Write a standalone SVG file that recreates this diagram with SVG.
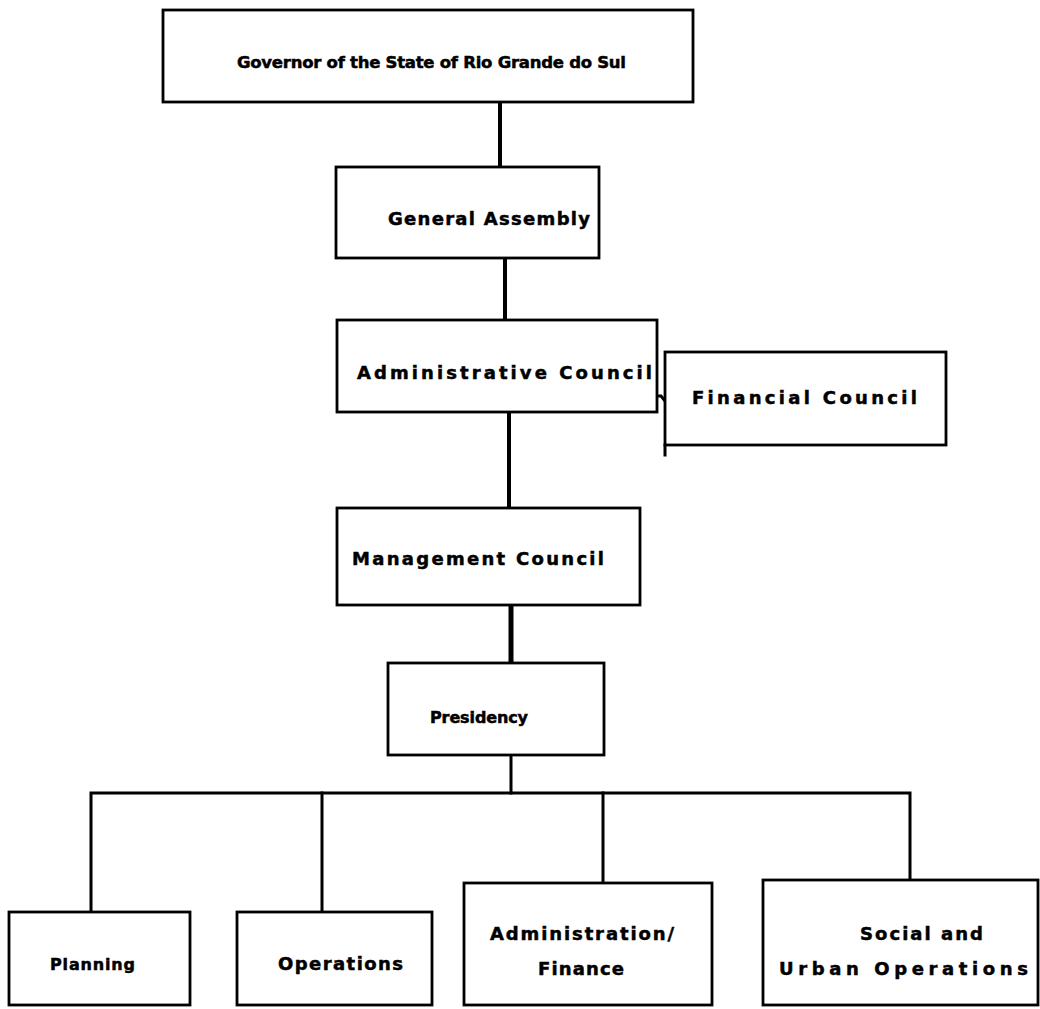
<svg xmlns="http://www.w3.org/2000/svg" width="1040" height="1009" viewBox="0 0 1040 1009">
<style>
.box{fill:#fff;stroke:#000;stroke-width:2.8}
.lbl{font-family:"DejaVu Sans","Liberation Sans",sans-serif;font-weight:bold;font-size:18px;fill:#000;stroke:#000;stroke-width:0.5}
.sm{font-size:16px}
.conn{stroke:#000;stroke-width:4;fill:none;stroke-linecap:square}
.thin{stroke:#000;stroke-width:3;fill:none;stroke-linecap:square}
</style>
<rect width="1040" height="1009" fill="#fff"/>
<g id="connectors">
<line class="conn" x1="500" y1="102" x2="500" y2="166"/>
<line class="conn" x1="505" y1="258" x2="505" y2="319"/>
<polyline class="thin" points="657,396 661,396 665,401"/>
<line class="conn" x1="509" y1="412" x2="509" y2="507"/>
<line class="conn" x1="511" y1="605" x2="511" y2="662" style="stroke-width:5"/>
<line class="thin" x1="511" y1="755" x2="511" y2="793"/>
<polyline class="thin" points="91,912 91,793 910,793 910,880"/>
<line class="thin" x1="322" y1="793" x2="322" y2="912"/>
<line class="thin" x1="603" y1="793" x2="603" y2="883"/>
</g>
<g id="governor">
<rect class="box" x="163" y="10" width="530" height="92"/>
<text class="lbl" x="237" y="68" textLength="389" lengthAdjust="spacing" style="font-size:16.5px">Governor of the State of Rio Grande do Sul</text>
</g>
<g id="general-assembly">
<rect class="box" x="336" y="167" width="263" height="91"/>
<text class="lbl" x="388" y="225" textLength="202" lengthAdjust="spacing">General Assembly</text>
</g>
<g id="administrative-council">
<rect class="box" x="337" y="320" width="320" height="92"/>
<text class="lbl" x="357" y="379" textLength="295" lengthAdjust="spacing">Administrative Council</text>
</g>
<g id="financial-council">
<rect class="box" x="665" y="352" width="281" height="93"/>
<line class="thin" x1="665" y1="445" x2="665" y2="455"/>
<text class="lbl" x="692" y="404" textLength="225" lengthAdjust="spacing">Financial Council</text>
</g>
<g id="management-council">
<rect class="box" x="337" y="508" width="303" height="97"/>
<text class="lbl" x="352" y="565" textLength="252" lengthAdjust="spacing">Management Council</text>
</g>
<g id="presidency">
<rect class="box" x="388" y="663" width="216" height="92"/>
<text class="lbl sm" x="430" y="723" textLength="98" lengthAdjust="spacing">Presidency</text>
</g>
<g id="planning">
<rect class="box" x="9" y="912" width="181" height="93"/>
<text class="lbl sm" x="50" y="970" textLength="85" lengthAdjust="spacing">Planning</text>
</g>
<g id="operations">
<rect class="box" x="237" y="912" width="195" height="93"/>
<text class="lbl" x="278" y="970" textLength="125" lengthAdjust="spacing">Operations</text>
</g>
<g id="administration-finance">
<rect class="box" x="464" y="883" width="248" height="122"/>
<text class="lbl" x="490" y="940" textLength="184" lengthAdjust="spacing">Administration/</text>
<text class="lbl" x="538" y="975" textLength="86" lengthAdjust="spacing">Finance</text>
</g>
<g id="social-urban">
<rect class="box" x="763" y="880" width="275" height="125"/>
<text class="lbl" x="860" y="940" textLength="123" lengthAdjust="spacing">Social and</text>
<text class="lbl" x="779" y="975" textLength="249" lengthAdjust="spacing">Urban Operations</text>
</g>
</svg>
